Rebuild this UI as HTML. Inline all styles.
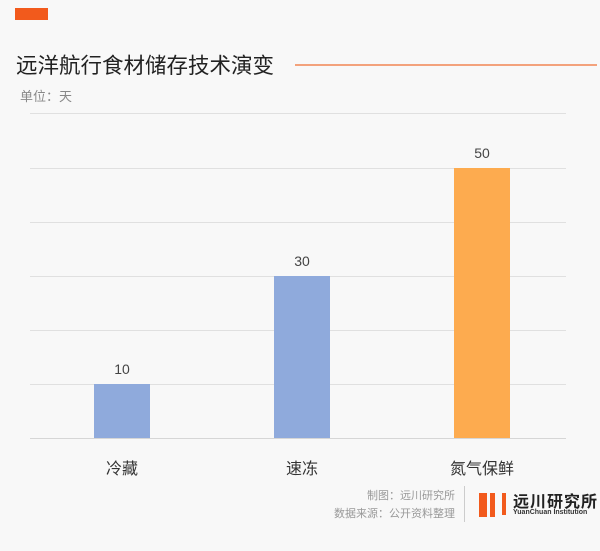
<!DOCTYPE html>
<html><head><meta charset="utf-8"><style>
body{margin:0;background:#f8f8f8;}
#c{position:relative;width:600px;height:551px;overflow:hidden;background:#f8f8f8;font-family:"Liberation Sans","Noto Sans CJK SC",sans-serif;}
.a{position:absolute;white-space:nowrap;}
.g{position:absolute;left:30px;width:536px;height:1px;background:#e0e0e0;}
.bar{position:absolute;width:56px;}
.v{position:absolute;width:56px;text-align:center;font-size:14px;color:#444;}
.l{position:absolute;width:120px;text-align:center;font-size:16px;color:#333;top:455px;}
</style></head><body><div id="c">
<div class="a" style="left:15px;top:8px;width:33px;height:12px;background:#f25a1c"></div>
<div class="a" style="left:16px;top:49px;font-size:21.5px;color:#222;">远洋航行食材储存技术演变</div>
<div class="a" style="left:295px;top:64px;width:302px;height:2px;background:#f3a27c"></div>
<div class="a" style="left:20px;top:86px;font-size:13px;color:#888;">单位：天</div>
<div class="g" style="top:113px"></div>
<div class="g" style="top:168px"></div>
<div class="g" style="top:222px"></div>
<div class="g" style="top:276px"></div>
<div class="g" style="top:330px"></div>
<div class="g" style="top:384px"></div>
<div class="g" style="top:438px;background:#d6d6d6"></div>
<div class="bar" style="left:94px;top:384px;height:54px;background:#8faadc"></div>
<div class="bar" style="left:274px;top:276px;height:162px;background:#8faadc"></div>
<div class="bar" style="left:454px;top:168px;height:270px;background:#fdab4f"></div>
<div class="v" style="left:94px;top:361px">10</div>
<div class="v" style="left:274px;top:253px">30</div>
<div class="v" style="left:454px;top:145px">50</div>
<div class="l" style="left:62px">冷藏</div>
<div class="l" style="left:242px">速冻</div>
<div class="l" style="left:422px">氮气保鲜</div>
<div class="a" style="left:330px;top:487px;width:125px;text-align:right;font-size:11px;color:#999;line-height:18px;">制图：远川研究所<br>数据来源：公开资料整理</div>
<div class="a" style="left:464px;top:486px;width:1px;height:36px;background:#ccc"></div>
<div class="a" style="left:479px;top:493px;width:8px;height:24px;background:#f25a1c"></div>
<div class="a" style="left:490px;top:493px;width:5px;height:24px;background:#f25a1c"></div>
<div class="a" style="left:502px;top:493px;width:4px;height:22px;background:#f25a1c"></div>
<div class="a" style="left:513px;top:488px;font-size:16px;font-weight:bold;color:#222;letter-spacing:1px;">远川研究所</div>
<div class="a" style="left:513px;top:509px;font-size:7px;font-weight:bold;color:#333;">YuanChuan Institution</div>
</div></body></html>
